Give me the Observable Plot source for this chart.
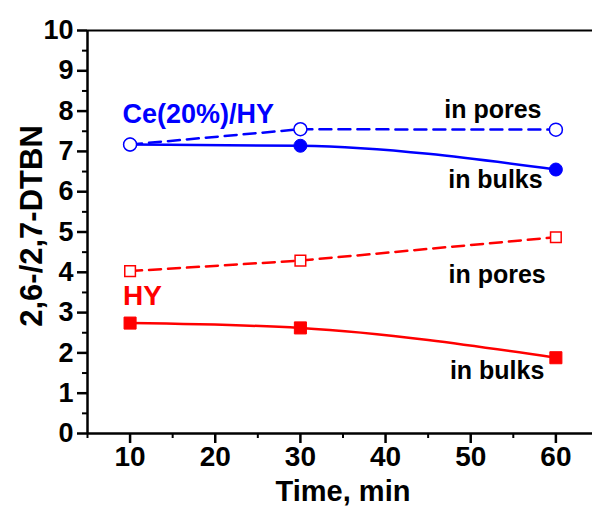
<!DOCTYPE html>
<html>
<head>
<meta charset="utf-8">
<script src="https://cdn.jsdelivr.net/npm/d3@7"></script>
<script src="https://cdn.jsdelivr.net/npm/@observablehq/plot@0.6"></script>
<style>
  body { margin: 0; background: #fff; }
  #chart svg { display: block; }
</style>
</head>
<body>
<div id="chart"></div>
<script>
// Reaction time (min)
const times = [10, 30, 60];
// 2,6-/2,7-DTBN ratio
const ceBulk = [7.17, 7.14, 6.55];
const cePores = [7.17, 7.55, 7.54];
const hyBulk = [2.74, 2.62, 1.88];
const hyPores = [4.03, 4.29, 4.87];
// Axis ticks
const xTicks = [10, 20, 30, 40, 50, 60];
const xMinor = [5, 15, 25, 35, 45, 55];
const yTicks = [0, 1, 2, 3, 4, 5, 6, 7, 8, 9, 10];
const yMinor = [0.5, 1.5, 2.5, 3.5, 4.5, 5.5, 6.5, 7.5, 8.5, 9.5];

const blue = "#0000ff";
const red = "#ff0000";
const font = "'Liberation Sans', Arial, Helvetica, sans-serif";

const rows = (vals) => times.map((t, i) => ({t, v: vals[i]}));

const chart = Plot.plot({
  width: 592,
  height: 507,
  marginLeft: 87,
  marginRight: 0,
  marginTop: 30,
  marginBottom: 74,
  style: {fontFamily: font, fontWeight: "bold", color: "#000", background: "#fff", overflow: "hidden"},
  x: {domain: [5, 64.3], axis: null},
  y: {domain: [0, 10], axis: null},
  marks: [
    // axes frame (left, bottom, top)
    Plot.ruleX([5], {stroke: "#000", strokeWidth: 2.5}),
    Plot.ruleY([0], {stroke: "#000", strokeWidth: 2.5}),
    Plot.ruleY([10], {stroke: "#000", strokeWidth: 2}),
    Plot.axisY(yTicks, {tickSize: 10, tickPadding: 4, fontSize: 27, strokeWidth: 2.5, label: null}),
    Plot.axisY(yMinor, {tickSize: 5, tickFormat: () => "", strokeWidth: 2, label: null}),
    Plot.axisX(xTicks, {tickSize: 10, tickPadding: 3, fontSize: 28, strokeWidth: 2.5, label: null}),
    Plot.axisX(xMinor, {tickSize: 5, tickFormat: () => "", strokeWidth: 2, label: null}),
    Plot.text(["2,6-/2,7-DTBN"], {frameAnchor: "left", textAnchor: "middle", lineAnchor: "middle", rotate: -90, dx: -55, dy: -6, fontSize: 31, fill: "#000"}),
    Plot.text(["Time, min"], {frameAnchor: "bottom", lineAnchor: "middle", dy: 58, dx: 3, fontSize: 29, fill: "#000"}),

    // Ce(20%)/HY
    Plot.line(rows(ceBulk), {x: "t", y: "v", stroke: blue, strokeWidth: 2.5, curve: "monotone-x"}),
    Plot.line(rows(cePores), {x: "t", y: "v", stroke: blue, strokeWidth: 2.5, strokeDasharray: "12,7"}),
    Plot.dot(rows(ceBulk), {x: "t", y: "v", r: 6.5, fill: blue, stroke: blue, strokeWidth: 1}),
    Plot.dot(rows(cePores), {x: "t", y: "v", r: 6.5, fill: "#fff", stroke: blue, strokeWidth: 1.5}),

    // HY
    Plot.line(rows(hyBulk), {x: "t", y: "v", stroke: red, strokeWidth: 2.5, curve: "monotone-x"}),
    Plot.line(rows(hyPores), {x: "t", y: "v", stroke: red, strokeWidth: 2.5, strokeDasharray: "12,7"}),
    Plot.dot(rows(hyBulk), {x: "t", y: "v", symbol: "square", r: 6.8, fill: red, stroke: red, strokeWidth: 1}),
    Plot.dot(rows(hyPores), {x: "t", y: "v", symbol: "square", r: 6, fill: "#fff", stroke: red, strokeWidth: 1.5}),

    // annotations
    Plot.text(["Ce(20%)/HY"], {x: 9.1, y: 7.93, textAnchor: "start", fontSize: 27, fill: blue}),
    Plot.text(["in pores"], {x: 52.6, y: 8.03, fontSize: 25, fill: "#000"}),
    Plot.text(["in bulks"], {x: 52.9, y: 6.3, fontSize: 25, fill: "#000"}),
    Plot.text(["HY"], {x: 9.17, y: 3.42, textAnchor: "start", fontSize: 28, fill: red}),
    Plot.text(["in pores"], {x: 53.1, y: 3.94, fontSize: 25, fill: "#000"}),
    Plot.text(["in bulks"], {x: 53.1, y: 1.56, fontSize: 25, fill: "#000"})
  ]
});

document.getElementById("chart").appendChild(chart);
</script>
</body>
</html>
